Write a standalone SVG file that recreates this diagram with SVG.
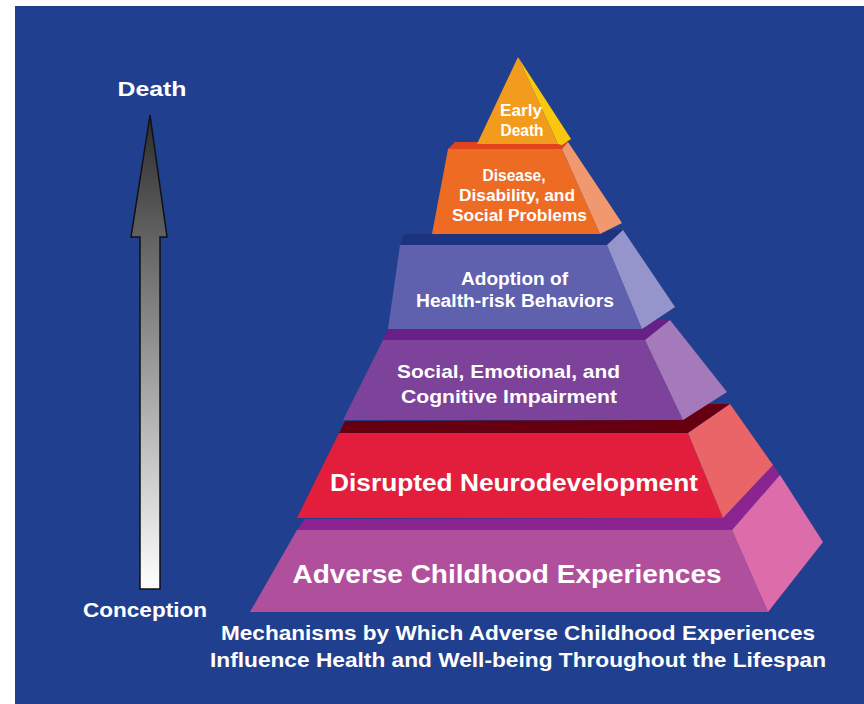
<svg xmlns="http://www.w3.org/2000/svg" width="864" height="704" viewBox="0 0 864 704">
<defs>
<linearGradient id="arrowGrad" x1="0" y1="0" x2="0" y2="1">
<stop offset="0" stop-color="#2c2c2c"/>
<stop offset="0.45" stop-color="#8a8a8a"/>
<stop offset="1" stop-color="#ffffff"/>
</linearGradient>
<style>
.t{font-family:"Liberation Sans",Arial,sans-serif;font-weight:bold;fill:#ffffff;text-anchor:middle}
</style>
</defs>
<rect x="0" y="0" width="864" height="704" fill="#ffffff"/>
<rect x="15" y="6" width="849" height="698" fill="#213F8F"/>

<g id="axis-arrow">
<polygon points="150,115 167,237 160,237 160,589 140,589 140,237 131,237" fill="url(#arrowGrad)" stroke="#111111" stroke-width="1.5" stroke-linejoin="miter"/>
<text class="t" x="152" y="96" font-size="21" textLength="69" lengthAdjust="spacingAndGlyphs">Death</text>
<text class="t" x="145" y="617" font-size="20" textLength="124" lengthAdjust="spacingAndGlyphs">Conception</text>
</g>

<g id="tier6-ace">
<polygon points="297,530 732,530 780,475 773,465 723,518 305,519" fill="#8B2390"/>
<polygon points="297,530 732,530 768,612 250,612" fill="#B04F9B"/>
<polygon points="732,530 780,475 823,542 768,612" fill="#DD6CAB"/>
<text class="t" x="507" y="583" font-size="25" textLength="429" lengthAdjust="spacingAndGlyphs">Adverse Childhood Experiences</text>
</g>

<g id="tier5-neuro">
<polygon points="339,433 688,433 730,404 706,404 683,420 345,421" fill="#660010"/>
<polygon points="339,433 688,433 723,518 297,518" fill="#E21E3C"/>
<polygon points="688,433 730,404 773,465 723,518" fill="#EA6567"/>
<text class="t" x="514" y="491" font-size="24" textLength="368" lengthAdjust="spacingAndGlyphs">Disrupted Neurodevelopment</text>
</g>

<g id="tier4-impairment">
<polygon points="383,340 645,340 670,320 655,320 642,329 388,329" fill="#6A1F88"/>
<polygon points="383,340 645,340 683,420 343,420" fill="#7D4299"/>
<polygon points="645,340 670,320 727,392 683,420" fill="#A47ABA"/>
<text class="t" x="508.5" y="378" font-size="19" textLength="223" lengthAdjust="spacingAndGlyphs">Social, Emotional, and</text>
<text class="t" x="509" y="403" font-size="19" textLength="216" lengthAdjust="spacingAndGlyphs">Cognitive Impairment</text>
</g>

<g id="tier3-behaviors">
<polygon points="400,245 607,245 623,230 608,230 600,234 404,234" fill="#1D3380"/>
<polygon points="400,245 607,245 642,329 388,329" fill="#5F60AE"/>
<polygon points="607,245 623,230 675,307 642,329" fill="#9695CB"/>
<text class="t" x="514.5" y="285" font-size="18" textLength="107" lengthAdjust="spacingAndGlyphs">Adoption of</text>
<text class="t" x="515" y="307" font-size="18" textLength="198" lengthAdjust="spacingAndGlyphs">Health-risk Behaviors</text>
</g>

<g id="tier2-disease">
<polygon points="448,149 562,149 568,142 455,142" fill="#E0441D"/>
<polygon points="448,149 562,149 600,234 432,234" fill="#EE6B24"/>
<polygon points="562,149 568,142 622,223 600,234" fill="#F2986F"/>
<text class="t" x="514" y="181" font-size="16" textLength="63" lengthAdjust="spacingAndGlyphs">Disease,</text>
<text class="t" x="517" y="201" font-size="16" textLength="116" lengthAdjust="spacingAndGlyphs">Disability, and</text>
<text class="t" x="519.5" y="221" font-size="16" textLength="135" lengthAdjust="spacingAndGlyphs">Social Problems</text>
</g>

<g id="tier1-death">
<polygon points="518,57 477,144 558,144" fill="#F39B1C"/>
<polygon points="518,57 571,139 562,145 558,144" fill="#F9C80E"/>
<text class="t" x="521" y="116" font-size="16" textLength="42" lengthAdjust="spacingAndGlyphs">Early</text>
<text class="t" x="522" y="136" font-size="16" textLength="43" lengthAdjust="spacingAndGlyphs">Death</text>
</g>

<g id="caption">
<text class="t" x="518" y="640" font-size="20.5" textLength="594" lengthAdjust="spacingAndGlyphs">Mechanisms by Which Adverse Childhood Experiences</text>
<text class="t" x="518" y="667" font-size="20.5" textLength="616" lengthAdjust="spacingAndGlyphs">Influence Health and Well-being Throughout the Lifespan</text>
</g>
</svg>
